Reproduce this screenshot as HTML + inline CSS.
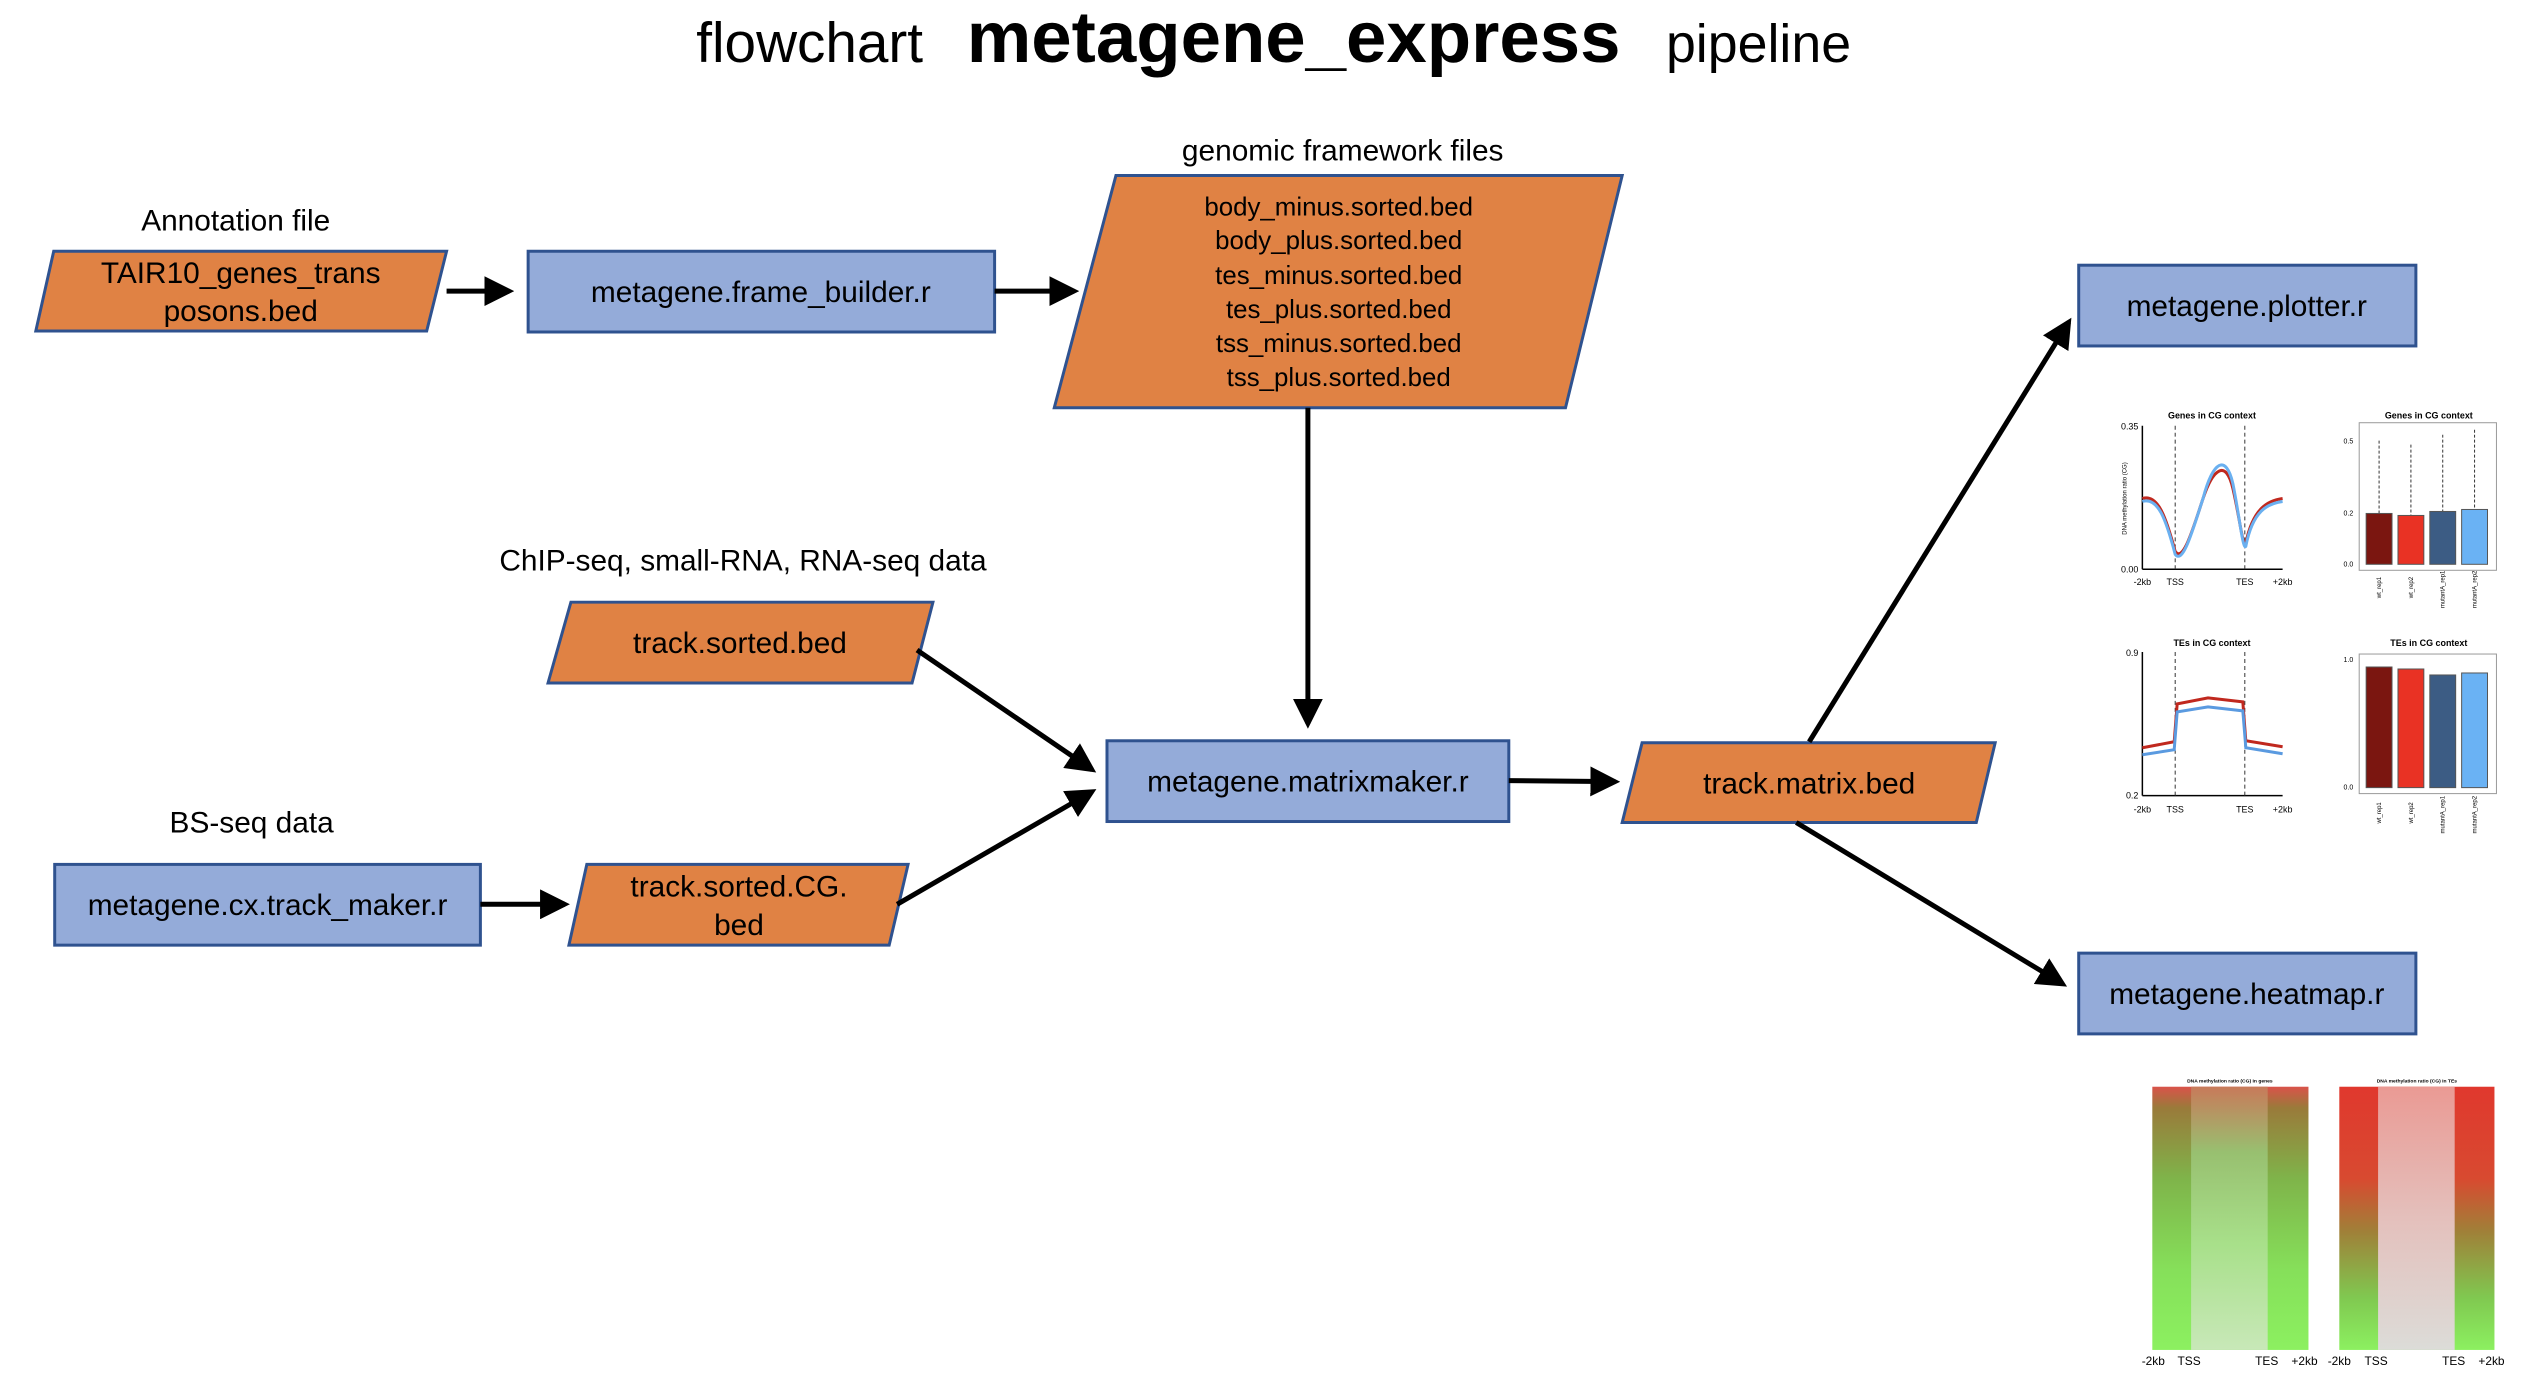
<!DOCTYPE html>
<html><head><meta charset="utf-8"><style>
html,body{margin:0;padding:0;background:#fff;}
svg{display:block;}
text{font-family:"Liberation Sans",sans-serif;fill:#000;}
</style></head><body>
<svg width="2544" height="1396" viewBox="0 0 2544 1396" xmlns="http://www.w3.org/2000/svg">
<defs>
<marker id="ah" markerWidth="6" markerHeight="6" refX="5" refY="3" orient="auto" markerUnits="strokeWidth">
<path d="M0,0 L6,3 L0,6 z" fill="#000"/></marker>
<linearGradient id="hmL" x1="0" y1="0" x2="0" y2="1">
<stop offset="0" stop-color="#d9534a"/><stop offset="0.08" stop-color="#9a7a3a"/><stop offset="0.35" stop-color="#7fb44a"/><stop offset="0.7" stop-color="#86e05a"/><stop offset="1" stop-color="#8cf060"/></linearGradient>
<linearGradient id="hmLm" x1="0" y1="0" x2="0" y2="1">
<stop offset="0" stop-color="#c87a5a"/><stop offset="0.25" stop-color="#98c070"/><stop offset="0.6" stop-color="#a8e08a"/><stop offset="1" stop-color="#c8e8b8"/></linearGradient>
<linearGradient id="hmR" x1="0" y1="0" x2="0" y2="1">
<stop offset="0" stop-color="#e0382e"/><stop offset="0.35" stop-color="#d84a30"/><stop offset="0.55" stop-color="#a08038"/><stop offset="0.8" stop-color="#80c850"/><stop offset="1" stop-color="#8cf060"/></linearGradient>
<linearGradient id="hmRm" x1="0" y1="0" x2="0" y2="1">
<stop offset="0" stop-color="#ea9a94"/><stop offset="0.5" stop-color="#e4c0bc"/><stop offset="1" stop-color="#dcdcd8"/></linearGradient>
</defs>
<g transform="scale(0.9946 0.997)">
<!-- Title -->
<text x="700" y="62" font-size="57">flowchart</text>
<text x="972" y="62" font-size="73" font-weight="bold">metagene_express</text>
<text x="1675" y="62" font-size="54">pipeline</text>

<!-- labels -->
<text x="237" y="231" font-size="30" text-anchor="middle">Annotation file</text>
<text x="1350" y="161" font-size="30" text-anchor="middle">genomic framework files</text>
<text x="747" y="572" font-size="30" text-anchor="middle">ChIP-seq, small-RNA, RNA-seq data</text>
<text x="253" y="835" font-size="30" text-anchor="middle">BS-seq data</text>

<!-- TAIR10 -->
<polygon points="54,252 449,252 429,332 36,332" fill="#E08244" stroke="#2F528F" stroke-width="3"/>
<text x="242" y="284" font-size="30" text-anchor="middle">TAIR10_genes_trans</text>
<text x="242" y="322" font-size="30" text-anchor="middle">posons.bed</text>

<!-- frame builder -->
<rect x="531" y="252" width="469" height="81" fill="#94ABD9" stroke="#2F528F" stroke-width="3"/>
<text x="765" y="303" font-size="30" text-anchor="middle">metagene.frame_builder.r</text>

<!-- framework files -->
<polygon points="1122,176 1631,176 1574,409 1060,409" fill="#E08244" stroke="#2F528F" stroke-width="3"/>
<g font-size="26" text-anchor="middle">
<text x="1346" y="216">body_minus.sorted.bed</text>
<text x="1346" y="250">body_plus.sorted.bed</text>
<text x="1346" y="285">tes_minus.sorted.bed</text>
<text x="1346" y="319">tes_plus.sorted.bed</text>
<text x="1346" y="353">tss_minus.sorted.bed</text>
<text x="1346" y="387">tss_plus.sorted.bed</text>
</g>

<!-- track.sorted.bed -->
<polygon points="574,604 938,604 917,685 551,685" fill="#E08244" stroke="#2F528F" stroke-width="3"/>
<text x="744" y="655" font-size="30" text-anchor="middle">track.sorted.bed</text>

<!-- cx track maker -->
<rect x="55" y="867" width="428" height="81" fill="#94ABD9" stroke="#2F528F" stroke-width="3"/>
<text x="269" y="918" font-size="30" text-anchor="middle">metagene.cx.track_maker.r</text>

<!-- CG bed -->
<polygon points="590,867 913,867 894,948 572,948" fill="#E08244" stroke="#2F528F" stroke-width="3"/>
<text x="743" y="899" font-size="30" text-anchor="middle">track.sorted.CG.</text>
<text x="743" y="938" font-size="30" text-anchor="middle">bed</text>

<!-- matrixmaker -->
<rect x="1113" y="743" width="404" height="81" fill="#94ABD9" stroke="#2F528F" stroke-width="3"/>
<text x="1315" y="794" font-size="30" text-anchor="middle">metagene.matrixmaker.r</text>

<!-- track.matrix.bed -->
<polygon points="1651,745 2006,745 1987,825 1631,825" fill="#E08244" stroke="#2F528F" stroke-width="3"/>
<text x="1819" y="796" font-size="30" text-anchor="middle">track.matrix.bed</text>

<!-- plotter -->
<rect x="2090" y="266" width="339" height="81" fill="#94ABD9" stroke="#2F528F" stroke-width="3"/>
<text x="2259" y="317" font-size="30" text-anchor="middle">metagene.plotter.r</text>

<!-- heatmap -->
<rect x="2090" y="956" width="339" height="81" fill="#94ABD9" stroke="#2F528F" stroke-width="3"/>
<text x="2259" y="1007" font-size="30" text-anchor="middle">metagene.heatmap.r</text>

<!-- arrows -->
<g stroke="#000" stroke-width="5" fill="none" marker-end="url(#ah)">
<line x1="449" y1="292" x2="512" y2="292"/>
<line x1="1000" y1="292" x2="1080" y2="292"/>
<line x1="1315" y1="409" x2="1315" y2="726"/>
<line x1="922" y1="652" x2="1098" y2="772"/>
<line x1="902" y1="907" x2="1098" y2="794"/>
<line x1="483" y1="907" x2="568" y2="907"/>
<line x1="1517" y1="783" x2="1624" y2="784"/>
<line x1="1819" y1="744" x2="2080" y2="323"/>
<line x1="1806" y1="825" x2="2074" y2="987"/>
</g>

<!-- Line plot genes -->
<g font-family="Liberation Sans">
<text x="2224" y="420" font-size="9" font-weight="bold" text-anchor="middle">Genes in CG context</text>
<line x1="2154" y1="427" x2="2154" y2="571" stroke="#000" stroke-width="1.5"/>
<line x1="2154" y1="571" x2="2295" y2="571" stroke="#000" stroke-width="1.5"/>
<line x1="2187" y1="427" x2="2187" y2="571" stroke="#333" stroke-dasharray="4,3"/>
<line x1="2257" y1="427" x2="2257" y2="571" stroke="#333" stroke-dasharray="4,3"/>
<text x="2150" y="431" text-anchor="end" font-size="9">0.35</text>
<text x="2150" y="574" text-anchor="end" font-size="9">0.00</text>
<text x="2154" y="587" text-anchor="middle" font-size="9">-2kb</text>
<text x="2187" y="587" text-anchor="middle" font-size="9">TSS</text>
<text x="2257" y="587" text-anchor="middle" font-size="9">TES</text>
<text x="2295" y="587" text-anchor="middle" font-size="9">+2kb</text>
<path d="M2154,500 C2170,495 2178,520 2187,553 C2195,565 2205,530 2215,500 C2225,470 2238,460 2245,490 C2252,520 2255,550 2258,545 C2265,510 2280,502 2295,500" stroke="#c0281e" stroke-width="3" fill="none"/>
<path d="M2154,503 C2170,498 2178,522 2187,556 C2195,567 2205,530 2215,500 C2225,462 2238,455 2245,485 C2252,520 2255,552 2258,548 C2265,512 2280,505 2295,503" stroke="#6ab0f0" stroke-width="3" fill="none"/>
<text x="2138" y="500" font-size="6" transform="rotate(-90 2138 500)" text-anchor="middle">DNA methylation ratio (CG)</text>
</g>

<!-- Box plot genes -->
<g font-family="Liberation Sans">
<text x="2442" y="420" font-size="9" font-weight="bold" text-anchor="middle">Genes in CG context</text>
<rect x="2372" y="424" width="138" height="148" fill="none" stroke="#999"/>
<g stroke="#333" stroke-dasharray="3,2"><line x1="2392" y1="442" x2="2392" y2="515"/><line x1="2424" y1="446" x2="2424" y2="517"/><line x1="2456" y1="436" x2="2456" y2="513"/><line x1="2488" y1="431" x2="2488" y2="511"/></g>
<rect x="2379" y="515" width="26" height="51" fill="#7b1610" stroke="#555"/>
<rect x="2411" y="517" width="26" height="49" fill="#e93224" stroke="#555"/>
<rect x="2443" y="513" width="26" height="53" fill="#3c5c84" stroke="#555"/>
<rect x="2475" y="511" width="26" height="55" fill="#6ab2f4" stroke="#555"/>
<g font-size="7"><text x="2366" y="445" text-anchor="end">0.5</text><text x="2366" y="517" text-anchor="end">0.2</text><text x="2366" y="568" text-anchor="end">0.0</text></g>
<g font-size="6"><text x="2394" y="600" transform="rotate(-90 2394 600)">wt_rep1</text><text x="2426" y="600" transform="rotate(-90 2426 600)">wt_rep2</text><text x="2458" y="610" transform="rotate(-90 2458 610)">mutantA_rep1</text><text x="2490" y="610" transform="rotate(-90 2490 610)">mutantA_rep2</text></g>
</g>

<!-- Line plot TEs -->
<g font-family="Liberation Sans">
<text x="2224" y="648" font-size="9" font-weight="bold" text-anchor="middle">TEs in CG context</text>
<line x1="2154" y1="654" x2="2154" y2="798" stroke="#000" stroke-width="1.5"/>
<line x1="2154" y1="798" x2="2295" y2="798" stroke="#000" stroke-width="1.5"/>
<line x1="2187" y1="654" x2="2187" y2="798" stroke="#333" stroke-dasharray="4,3"/>
<line x1="2257" y1="654" x2="2257" y2="798" stroke="#333" stroke-dasharray="4,3"/>
<text x="2150" y="658" text-anchor="end" font-size="9">0.9</text>
<text x="2150" y="801" text-anchor="end" font-size="9">0.2</text>
<text x="2154" y="815" text-anchor="middle" font-size="9">-2kb</text>
<text x="2187" y="815" text-anchor="middle" font-size="9">TSS</text>
<text x="2257" y="815" text-anchor="middle" font-size="9">TES</text>
<text x="2295" y="815" text-anchor="middle" font-size="9">+2kb</text>
<path d="M2154,750 L2186,744 L2189,706 L2220,700 L2255,704 L2258,743 L2295,749" stroke="#c0281e" stroke-width="3" fill="none"/>
<path d="M2154,757 L2186,752 L2189,714 L2220,709 L2255,713 L2258,750 L2295,756" stroke="#5a9ae0" stroke-width="3" fill="none"/>
</g>

<!-- Box plot TEs -->
<g font-family="Liberation Sans">
<text x="2442" y="648" font-size="9" font-weight="bold" text-anchor="middle">TEs in CG context</text>
<rect x="2372" y="656" width="138" height="140" fill="none" stroke="#999"/>
<rect x="2379" y="669" width="26" height="121" fill="#7b1610" stroke="#555"/>
<rect x="2411" y="671" width="26" height="119" fill="#e93224" stroke="#555"/>
<rect x="2443" y="677" width="26" height="113" fill="#3c5c84" stroke="#555"/>
<rect x="2475" y="675" width="26" height="115" fill="#6ab2f4" stroke="#555"/>
<g font-size="7"><text x="2366" y="664" text-anchor="end">1.0</text><text x="2366" y="792" text-anchor="end">0.0</text></g>
<g font-size="6"><text x="2394" y="826" transform="rotate(-90 2394 826)">wt_rep1</text><text x="2426" y="826" transform="rotate(-90 2426 826)">wt_rep2</text><text x="2458" y="836" transform="rotate(-90 2458 836)">mutantA_rep1</text><text x="2490" y="836" transform="rotate(-90 2490 836)">mutantA_rep2</text></g>
</g>

<!-- heatmaps -->
<g font-family="Liberation Sans">
<text x="2242" y="1086" font-size="5" font-weight="bold" text-anchor="middle">DNA methylation ratio (CG) in genes</text>
<rect x="2164" y="1090" width="157" height="264" fill="url(#hmL)"/>
<rect x="2203" y="1090" width="77" height="264" fill="url(#hmLm)"/>
<text x="2430" y="1086" font-size="5" font-weight="bold" text-anchor="middle">DNA methylation ratio (CG) in TEs</text>
<rect x="2352" y="1090" width="156" height="264" fill="url(#hmR)"/>
<rect x="2391" y="1090" width="77" height="264" fill="url(#hmRm)"/>
<g font-size="12" text-anchor="middle">
<text x="2165" y="1369">-2kb</text><text x="2201" y="1369">TSS</text><text x="2279" y="1369">TES</text><text x="2317" y="1369">+2kb</text>
<text x="2352" y="1369">-2kb</text><text x="2389" y="1369">TSS</text><text x="2467" y="1369">TES</text><text x="2505" y="1369">+2kb</text>
</g>
</g>
</g>
</svg>
</body></html>
